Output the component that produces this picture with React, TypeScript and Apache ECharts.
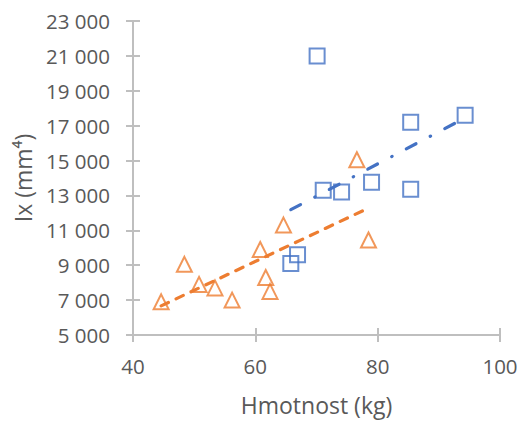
import React, { useEffect, useRef } from "react";
import * as echarts from "echarts";

const blueX = [70.1, 71.1, 74.1, 79.0, 85.4, 85.4, 94.3, 65.8, 66.9];
const blueY = [21000, 13300, 13200, 13750, 17200, 13350, 17600, 9100, 9600];
const orangeX = [44.6, 48.4, 50.8, 53.4, 56.2, 60.8, 61.7, 62.4, 64.6, 76.6, 78.5];
const orangeY = [6900, 9050, 7900, 7700, 7000, 9900, 8300, 7500, 11300, 15050, 10450];

const xTitle = "Hmotnost (kg)";
const yTitle = "Ix (mm⁴)";

const BLUE = "#4472C4";
const ORANGE = "#ED7D31";
const TEXT = "#595959";
const AXIS = "#BFBFBF";
const FONT = "'Open Sans', Lato, sans-serif";

function trend(xs: number[], ys: number[]): number[][] {
  const n = xs.length;
  const mx = xs.reduce((a, b) => a + b, 0) / n;
  const my = ys.reduce((a, b) => a + b, 0) / n;
  let sxy = 0;
  let sxx = 0;
  for (let i = 0; i < n; i++) {
    sxy += (xs[i] - mx) * (ys[i] - my);
    sxx += (xs[i] - mx) * (xs[i] - mx);
  }
  const b = sxy / sxx;
  const a = my - b * mx;
  const x0 = Math.min(...xs);
  const x1 = Math.max(...xs);
  return [
    [x0, a + b * x0],
    [x1, a + b * x1],
  ];
}

const fmt = (v: number) => String(v).replace(/\B(?=(\d{3})+(?!\d))/g, " ");

export default function App() {
  const ref = useRef<HTMLDivElement>(null);
  useEffect(() => {
    if (!ref.current) return;
    const chart = echarts.init(ref.current, undefined, { renderer: "svg" });
    const xBase = {
      type: "value",
      min: 40,
      max: 100,
      interval: 20,
      position: "bottom",
      splitLine: { show: false },
    };
    const yBase = {
      type: "value",
      min: 5000,
      max: 23000,
      interval: 2000,
      position: "left",
      splitLine: { show: false },
    };
    chart.setOption({
      animation: false,
      backgroundColor: "#ffffff",
      grid: { left: 133, right: 25, top: 21, bottom: 85, containLabel: false },
      xAxis: [
        {
          ...xBase,
          name: xTitle,
          nameLocation: "middle",
          nameGap: 58,
          nameTextStyle: { color: TEXT, fontSize: 23, fontFamily: FONT },
          axisLine: { show: true, lineStyle: { color: AXIS, width: 2 } },
          axisTick: { show: true, length: 7, lineStyle: { color: AXIS, width: 2 } },
          axisLabel: { color: TEXT, fontSize: 20.5, fontFamily: FONT, margin: 20 },
        },
        {
          ...xBase,
          axisLine: { show: false },
          axisTick: { show: true, inside: true, length: 7, lineStyle: { color: AXIS, width: 2 } },
          axisLabel: { show: false },
        },
      ],
      yAxis: [
        {
          ...yBase,
          name: yTitle,
          nameLocation: "middle",
          nameRotate: 90,
          nameGap: 99,
          nameTextStyle: { color: TEXT, fontSize: 23, fontFamily: FONT },
          axisLine: { show: true, lineStyle: { color: AXIS, width: 2 } },
          axisTick: { show: true, length: 7, lineStyle: { color: AXIS, width: 2 } },
          axisLabel: { color: TEXT, fontSize: 20.5, fontFamily: FONT, margin: 23, formatter: fmt },
        },
        {
          ...yBase,
          axisLine: { show: false },
          axisTick: { show: true, inside: true, length: 7, lineStyle: { color: AXIS, width: 2 } },
          axisLabel: { show: false },
        },
      ],
      series: [
        {
          name: "Série 2",
          type: "scatter",
          symbol: "triangle",
          symbolSize: 15,
          data: orangeX.map((x, i) => [x, orangeY[i]]),
          itemStyle: { color: "transparent", borderColor: ORANGE, borderWidth: 2 },
          z: 2,
        },
        {
          name: "Série 1",
          type: "scatter",
          symbol: "rect",
          symbolSize: 15,
          data: blueX.map((x, i) => [x, blueY[i]]),
          itemStyle: { color: "transparent", borderColor: BLUE, borderWidth: 2 },
          z: 2,
        },
        {
          name: "Trend 2",
          type: "line",
          data: trend(orangeX, orangeY),
          symbol: "none",
          lineStyle: { color: ORANGE, width: 3.2, type: [8, 8.5], cap: "round" },
          z: 3,
        },
        {
          name: "Trend 1",
          type: "line",
          data: trend(blueX, blueY),
          symbol: "none",
          lineStyle: { color: BLUE, width: 3.2, type: [11, 16, 0.5, 16], cap: "round" },
          z: 3,
        },
      ],
    });
    return () => chart.dispose();
  }, []);
  return <div ref={ref} style={{ width: 525, height: 421, marginLeft: -8, marginTop: -8 }} />;
}
